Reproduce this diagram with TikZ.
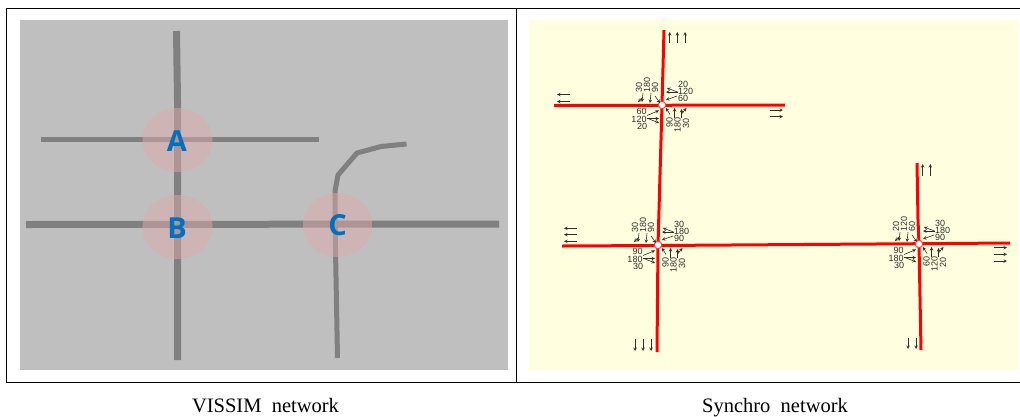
\documentclass[tikz,border=0pt]{standalone}
\usepackage{fontspec}
\setmainfont{Liberation Serif}
\setsansfont{Liberation Sans}
\newfontfamily\zonefont{Open Sans}
\definecolor{panelgray}{RGB}{191,191,191}
\definecolor{panelyellow}{RGB}{255,255,224}
\definecolor{roadgray}{RGB}{128,128,128}
\definecolor{zonepink}{RGB}{221,170,170}
\definecolor{zoneblue}{RGB}{0,112,192}
\definecolor{inkgray}{RGB}{45,45,45}
\tikzset{
  frame/.style={draw=black, line width=0.9pt},
  road/.style={draw=roadgray, line join=round},
  link/.style={draw=red, line width=3pt, line join=round},
  zone/.style={fill=zonepink, fill opacity=0.5},
  zonelabel/.style={font=\zonefont\bfseries\fontsize{29}{29}\selectfont, text=zoneblue, inner sep=0pt},
  caption/.style={font=\fontsize{20.5}{21}\selectfont, inner sep=0pt, anchor=base},
  vol/.style={font=\sffamily\fontsize{9}{9}\selectfont, text=inkgray, inner sep=0pt},
  move/.style={->, >=stealth, draw=inkgray, line width=0.6pt},
  hub/.style={circle, draw=red!75, fill=white, line width=1pt, minimum size=7.5pt, inner sep=0pt}
}
\begin{document}
\begin{tikzpicture}[x=1pt, y=-1pt]
  \useasboundingbox (0,0) rectangle (1020,416);
  % panels
  \fill[panelgray] (20,20) rectangle (508,370);
  \fill[panelyellow] (529,20) rectangle (1018,370);
  \draw[frame] (1020,8) -- (6.5,8) -- (6.5,382) -- (1020,382);
  \draw[frame] (516.5,8) -- (516.5,382);
  % VISSIM
  \draw[road, line width=7pt] (176.5,31) -- (177.5,100) -- (177.5,360);
  \draw[road, line width=5pt] (41,139.5) -- (319,139.5);
  \draw[road, line width=7pt] (26,224.5) -- (499,224);
  \draw[road, line width=5pt] (337.5,358) -- (335.5,250) -- (335,191) -- (338,175) -- (357,153) -- (381,146.5) -- (406.5,144);
  \fill[zone] (177.5,140) ellipse [x radius=35, y radius=32];
  \fill[zone] (177.5,227) ellipse [x radius=35, y radius=32];
  \fill[zone] (337.5,225) ellipse [x radius=34.5, y radius=32];
  \node[zonelabel] (zone-a) at (177,141.5) {A};
  \node[zonelabel] (zone-b) at (177,228) {B};
  \node[zonelabel] (zone-c) at (337.5,225.5) {C};
  \node[caption] (cap-vissim) at (265.5,412) {VISSIM\ \ network};
  \node[caption] (cap-synchro) at (775,412) {Synchro\ \ network};
  % Synchro
  \draw[link] (664,30) -- (662,105) -- (658,245) -- (657,352);
  \draw[link] (554,105.5) -- (785,105);
  \draw[link] (562,246) -- (658,245.5) -- (919,243.7) -- (1010,243);
  \draw[link] (917,163) -- (918,220) -- (919,244) -- (921,350);
  % turning volumes at each junction
  \foreach \jn/\jx/\jy/\na/\nb/\nc/\ea/\eb/\ec/\wa/\wb/\wc/\sa/\sb/\sc in {
    a/662/105/30/180/90/20/120/60/60/120/20/90/180/30,
    b/658/245/30/180/90/30/180/90/90/180/30/90/180/30,
    c/919/244/20/120/60/30/180/90/90/180/30/60/120/20} {
    \begin{scope}[shift={(\jx,\jy)}]
      \node[hub] (\jn-hub) at (0,0) {};
      \node[vol, rotate=90] (\jn-n1) at (-23,-18) {\na};
      \node[vol, rotate=90] (\jn-n2) at (-15,-20) {\nb};
      \node[vol, rotate=90] (\jn-n3) at (-7,-17.5) {\nc};
      \node[vol] (\jn-e1) at (21,-20.5) {\ea};
      \node[vol] (\jn-e2) at (23.5,-13.5) {\eb};
      \node[vol] (\jn-e3) at (21,-6.5) {\ec};
      \node[vol] (\jn-w1) at (-20.5,6.5) {\wa};
      \node[vol] (\jn-w2) at (-23,14) {\wb};
      \node[vol] (\jn-w3) at (-20,21.5) {\wc};
      \node[vol, rotate=90] (\jn-s1) at (7.5,17.5) {\sa};
      \node[vol, rotate=90] (\jn-s2) at (15.5,19.5) {\sb};
      \node[vol, rotate=90] (\jn-s3) at (24,18) {\sc};
      \foreach \xa/\ya/\xb/\yb in {
        -19/-12/-20/-3, -19/-8/-24/-3, -11/-12/-12/-2, -7/-9/-2/-2,
        15/-9/4/-5, 15.5/-13/4/-13, 15.5/-13/5/-17,
        -15/10.5/-3/5.5, -15/13.5/-3/13.5, -14/13.5/-3/18,
        8/9.5/4/3, 12.5/13/12.5/3, 19.5/13/19.5/4, 19.5/9/24.5/3}
        \draw[move] (\xa,\ya) -- (\xb,\yb);
    \end{scope}
  }
  % lane arrows at the ends of the links
  \foreach \x in {669.7,677.3,685} \draw[move] (\x,43) -- (\x,32);
  \foreach \y in {94.5,101.5} \draw[move] (570,\y) -- (557,\y);
  \foreach \y in {110,116.7} \draw[move] (770,\y) -- (783,\y);
  \foreach \y in {228.3,234.7,241.3} \draw[move] (577,\y) -- (564,\y);
  \foreach \x in {635,643,651} \draw[move] (\x,339) -- (\x,351);
  \foreach \x in {922.7,930.3} \draw[move] (\x,176) -- (\x,164);
  \foreach \y in {247.7,254.3,261} \draw[move] (994,\y) -- (1007,\y);
  \foreach \x in {908,916} \draw[move] (\x,338) -- (\x,349);
\end{tikzpicture}
\end{document}
